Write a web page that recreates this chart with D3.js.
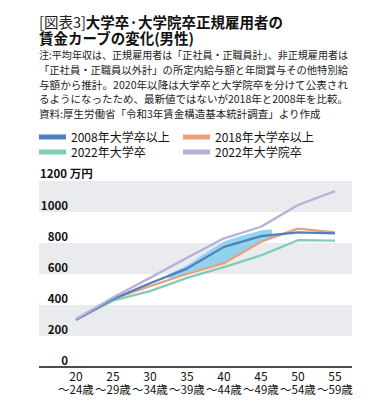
<!DOCTYPE html>
<html><head><meta charset="utf-8">
<script src="https://cdn.jsdelivr.net/npm/d3@7"></script>
<style>
html,body{margin:0;padding:0;background:#fff;}
svg{display:block;font-family:"Noto Sans CJK JP","Noto Sans",sans-serif;}
</style></head>
<body>
<svg id="c" width="390" height="418"></svg>
<script>
const ageStart = ["20","25","30","35","40","45","50","55"];
const ageEnd = ["～24歳","～29歳","～34歳","～39歳","～44歳","～49歳","～54歳","～59歳"];
const yTicks = [0,200,400,600,800,1000];
const s2008 = [305,438,540,635,775,845,868,862];
const s2018 = [305,440,522,600,670,808,893,869];
const s2022u = [305,428,490,575,645,720,818,815];
const s2022g = [310,448,575,705,830,905,1045,1135];
const seriesNames = ["2008年大学卒以上","2018年大学卒以上","2022年大学卒","2022年大学院卒"];
const colors = ["#4f7fc0","#eba07c","#82cbb9","#b7b0d8"];
const highlightRange = [2.5, 5.3];

const svg = d3.select("#c");
const x = d3.scaleLinear().domain([0,7]).range([76,335]);
const y = d3.scaleLinear().domain([0,1200]).range([367,181]);

// title
const title = svg.append("text").attr("x",39).attr("y",28).attr("font-size",14.5).attr("fill","#111");
title.append("tspan").attr("font-weight",400).attr("fill","#222").text("[図表3]");
title.append("tspan").attr("font-weight",700).text("大学卒·大学院卒正規雇用者の");
title.append("tspan").attr("x",39).attr("dy",16).attr("font-weight",700).text("賃金カーブの変化(男性)");

const notes = [
 "注:平均年収は、正規雇用者は「正社員・正職員計」、非正規雇用者は",
 "「正社員・正職員以外計」の所定内給与額と年間賞与その他特別給",
 "与額から推計。2020年以降は大学卒と大学院卒を分けて公表され",
 "るようになったため、最新値ではないが2018年と2008年を比較。",
 "資料:厚生労働省「令和3年賃金構造基本統計調査」より作成"
];
notes.forEach((n,i)=>{
  const tt = svg.append("text").attr("x",39).attr("y",59+i*14.8).attr("font-size",10.5)
    .attr("fill","#222").text(n);
  if(i<4) tt.attr("textLength",309).attr("lengthAdjust","spacingAndGlyphs");
});

// legend
const legPos = [[39,137],[183,137],[39,152],[183,152]];
seriesNames.forEach((nm,i)=>{
  svg.append("rect").attr("x",legPos[i][0]).attr("y",legPos[i][1]-2.5).attr("width",27).attr("height",5).attr("fill",colors[i]);
  svg.append("text").attr("x",legPos[i][0]+32).attr("y",legPos[i][1]+4.5).attr("font-size",12).attr("fill","#111").text(nm);
});

// bands
for(let i=0;i<6;i+=2){
  const v0 = 1200 - i*200;
  svg.append("rect").attr("x",39).attr("width",313).attr("y",y(v0)).attr("height",y(v0-200)-y(v0)).attr("fill","#e9ebee");
}

// y labels
svg.append("text").attr("x",40).attr("y",y(1200)-3).attr("font-size",11.5).attr("font-weight",700).attr("fill","#111").text("1200 万円");
yTicks.forEach(v=>{
  svg.append("text").attr("x",68).attr("y",y(v)-2.5).attr("text-anchor","end").attr("font-size",11.5)
   .attr("font-weight",700).attr("fill","#111").text(v);
});

// highlight area
function interp(arr,t){const i=Math.min(Math.floor(t),arr.length-2);const f=t-i;return arr[i]*(1-f)+arr[i+1]*f;}
const hs = d3.range(highlightRange[0], highlightRange[1]+0.001, 0.05);
const area = d3.area().x(t=>x(t))
  .y0(t=>y(interp(s2018,t)))
  .y1(t=>{const k=(t-highlightRange[0])/(highlightRange[1]-highlightRange[0]);return y(interp(s2008,t)+10+28*Math.sin(Math.PI*Math.min(1,k*1.1)/1.6));})
  .curve(d3.curveBasis);
svg.append("path").attr("d",area(hs)).attr("fill","#88cfec").attr("opacity",0.9);

// lines
const line = d3.line().x((d,i)=>x(i)).y(d=>y(d));
const data = [s2008,s2018,s2022u,s2022g];
[2,1,0,3].forEach(k=>{
  svg.append("path").attr("d",line(data[k])).attr("fill","none").attr("stroke",colors[k])
    .attr("stroke-width",2.3).attr("stroke-linejoin","round");
});

// axis
svg.append("line").attr("x1",39).attr("x2",352).attr("y1",367).attr("y2",367).attr("stroke","#111").attr("stroke-width",1.5);
ageStart.forEach((a,i)=>{
  const t = svg.append("text").attr("x",x(i)).attr("y",381).attr("text-anchor","middle").attr("font-size",12).attr("fill","#111");
  t.append("tspan").attr("x",x(i)).text(a);
  t.append("tspan").attr("x",x(i)).attr("dy",13).attr("font-size",11.5).text(ageEnd[i]);
});
</script>
</body></html>
